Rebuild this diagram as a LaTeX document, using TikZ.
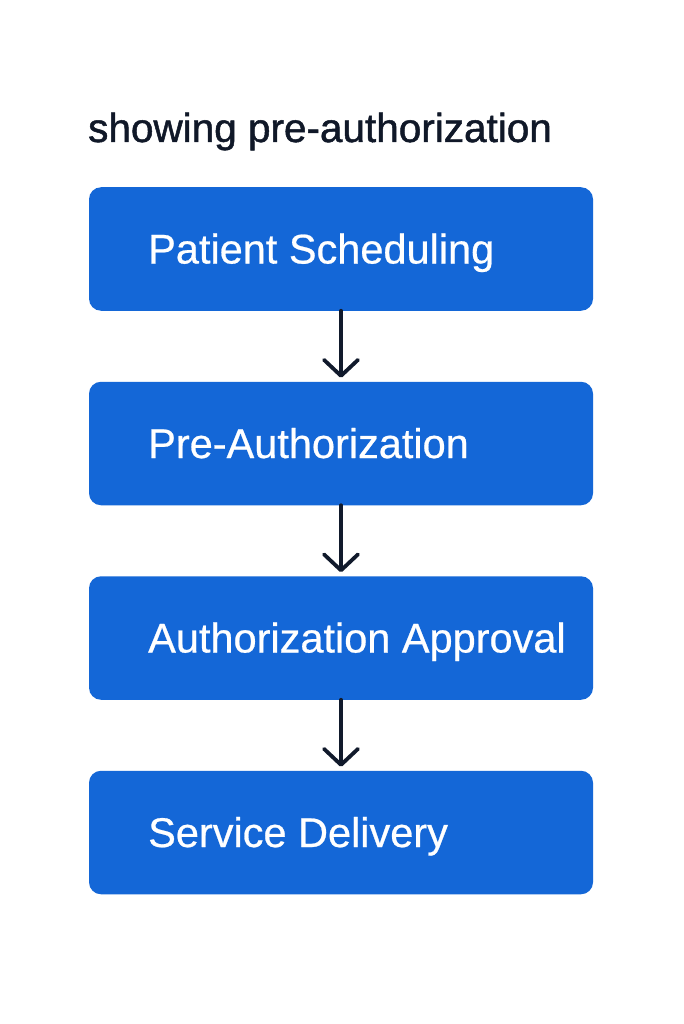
\documentclass[tikz,border=0pt]{standalone}
\usepackage{fontspec}
\setmainfont{Liberation Sans}
\newfontface\headface[FakeBold=1.2]{Liberation Sans}
\newfontface\stepface[FakeBold=0.6]{Liberation Sans}
\usetikzlibrary{arrows.meta,positioning}

\definecolor{boxblue}{HTML}{1467D7}
\definecolor{arrowink}{HTML}{111A2C}
\definecolor{titleink}{HTML}{101828}

\begin{document}
\begin{tikzpicture}[%
        > = {Straight Barb[length=16pt, width=34pt, line cap=round, line join=round]},
        stepbox/.style = {fill=boxblue, rounded corners=12pt,
            minimum width=504pt, minimum height=123.5pt, inner sep=0pt, outer sep=0pt},
        steptext/.style = {text=white, inner sep=0pt, anchor=base west,
            font=\stepface\fontsize{41.5pt}{48pt}\selectfont},
        flow/.style = {->, draw=arrowink, line width=3.8pt, line cap=round, shorten >=4pt}
    ]

        % Frame of the page.
        \useasboundingbox[fill=white] (0pt,0pt) rectangle (683pt,-1024pt);

        % Heading.
        \node (title) [anchor=base west, inner sep=0pt, text=titleink,
            font=\headface\fontsize{40.5pt}{46pt}\selectfont] at (88pt,-142pt)
            {showing pre-authorization};

        % The four steps.
        \node (sched)    [stepbox] at (341pt,-249pt) {};
        \node (preauth)  [stepbox, below=71pt of sched] {};
        \node (approval) [stepbox, below=71pt of preauth] {};
        \node (delivery) [stepbox, below=71pt of approval] {};

        % Labels of the steps.
        \node (schedtext)    [steptext] at ([xshift=59pt, yshift=-14.5pt]sched.west)    {Patient Scheduling};
        \node (preauthtext)  [steptext] at ([xshift=59pt, yshift=-14.5pt]preauth.west)  {Pre-Authorization};
        \node (approvaltext) [steptext] at ([xshift=59pt, yshift=-14.5pt]approval.west) {Authorization Approval};
        \node (deliverytext) [steptext] at ([xshift=59pt, yshift=-14.5pt]delivery.west) {Service Delivery};

        % Arrows between the steps.
        \draw[flow] (sched)    to (preauth);
        \draw[flow] (preauth)  to (approval);
        \draw[flow] (approval) to (delivery);
    \end{tikzpicture}
\end{document}
